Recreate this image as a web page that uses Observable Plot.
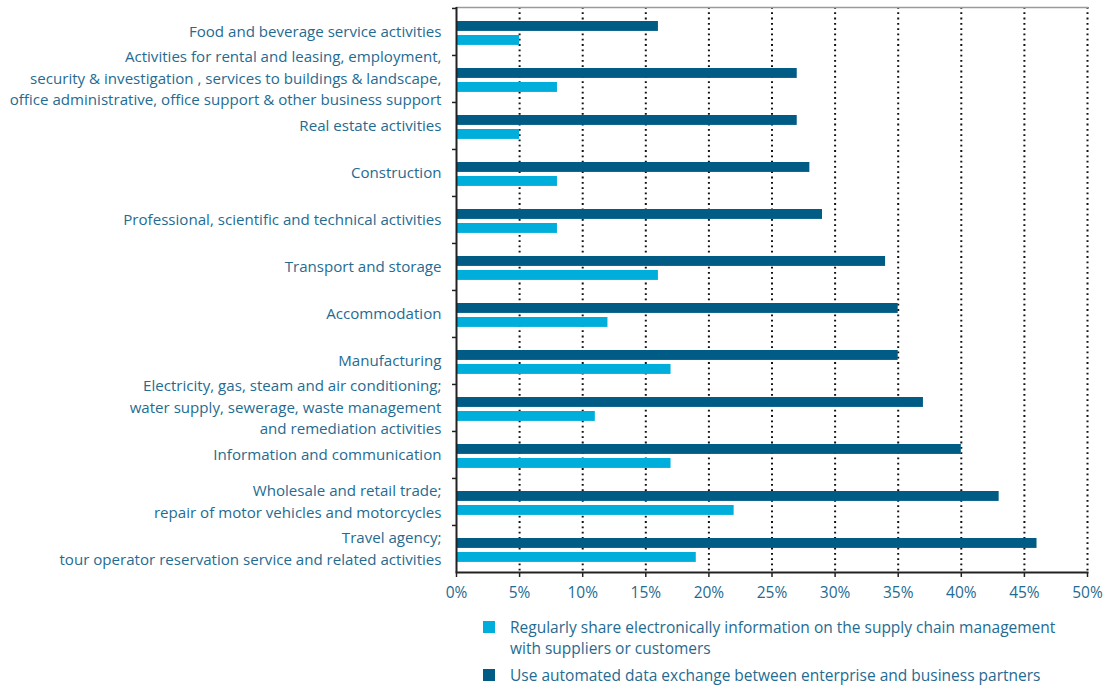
<!DOCTYPE html>
<html>
<head>
<meta charset="utf-8">
<script src="https://cdn.jsdelivr.net/npm/d3@7"></script>
<script src="https://cdn.jsdelivr.net/npm/@observablehq/plot@0.6"></script>
<style>
  body { margin: 0; background: #fff; font-family: "Open Sans", sans-serif; }
  #legend { position: relative; margin-left: 483px; margin-top: 7px; color: #1f6b91; font-size: 15.5px; line-height: 21px; }
  .item { display: flex; align-items: flex-start; margin-bottom: 6px; }
  .sw { width: 12px; height: 12px; margin-top: 4px; margin-right: 15px; flex: none; }
</style>
</head>
<body>
<div id="chart"></div>
<div id="legend"></div>
<script>
const categories = [
  "Food and beverage service activities",
  "Activities for rental and leasing, employment,\nsecurity & investigation , services to buildings & landscape,\noffice administrative, office support & other business support",
  "Real estate activities",
  "Construction",
  "Professional, scientific and technical activities",
  "Transport and storage",
  "Accommodation",
  "Manufacturing",
  "Electricity, gas, steam and air conditioning;\nwater supply, sewerage, waste management\nand remediation activities",
  "Information and communication",
  "Wholesale and retail trade;\nrepair of motor vehicles and motorcycles",
  "Travel agency;\ntour operator reservation service and related activities"
];
const automatedExchange = [16, 27, 27, 28, 29, 34, 35, 35, 37, 40, 43, 46];
const supplyChainSharing = [5, 8, 5, 8, 8, 16, 12, 17, 11, 17, 22, 19];
const xTicks = [0, 5, 10, 15, 20, 25, 30, 35, 40, 45, 50];
const seriesNames = [
  "Regularly share electronically information on the supply chain management\nwith suppliers or customers",
  "Use automated data exchange between enterprise and business partners"
];

const dark = "#005b85", light = "#00aedb", textColor = "#1f6b91";
const rows = categories.map((c, i) => ({category: c, automated: automatedExchange[i], supply: supplyChainSharing[i]}));

const W = 1106, H = 610, mt = 7, mb = 38;
const step = (H - mt - mb) / categories.length;

const chart = Plot.plot({
  width: W, height: H,
  marginLeft: 456, marginRight: 19, marginTop: mt, marginBottom: mb,
  style: {fontFamily: "Open Sans, sans-serif", fontSize: "15.5px", color: textColor, background: "#fff"},
  x: {domain: [0, 50]},
  y: {domain: categories, padding: 0},
  marks: [
    Plot.gridX(xTicks.slice(1), {stroke: "#111", strokeOpacity: 1, strokeWidth: 2, strokeDasharray: "1.8,3.5"}),
    Plot.frame({anchor: "top", stroke: "#9a9a9a", strokeWidth: 1.5}),
    Plot.barX(rows, {x: "automated", y: "category", fill: dark, insetTop: 13, insetBottom: step - 23}),
    Plot.barX(rows, {x: "supply", y: "category", fill: light, insetTop: 27, insetBottom: step - 37}),
    Plot.axisY({tickSize: 0, tickPadding: 15, dy: -2, lineHeight: 1.42, fill: textColor, fontSize: 15.1, label: null}),
    Plot.axisY({text: null, tickSize: 4, dy: -step / 2, stroke: "#222", strokeWidth: 1.5, label: null}),
    Plot.axisX({ticks: xTicks, tickFormat: d => d + "%", tickSize: 5, tickPadding: 9, stroke: "#222", strokeWidth: 1.5, fill: textColor, fontSize: 15.5, label: null}),
    Plot.ruleX([0], {stroke: "#222", strokeWidth: 2}),
    Plot.frame({anchor: "bottom", stroke: "#222", strokeWidth: 2})
  ]
});
document.getElementById("chart").appendChild(chart);

const legend = d3.select("#legend");
[light, dark].forEach((col, i) => {
  const it = legend.append("div").attr("class", "item");
  it.append("div").attr("class", "sw").style("background", col);
  it.append("div").style("white-space", "pre").text(seriesNames[i]);
});
</script>
</body>
</html>
